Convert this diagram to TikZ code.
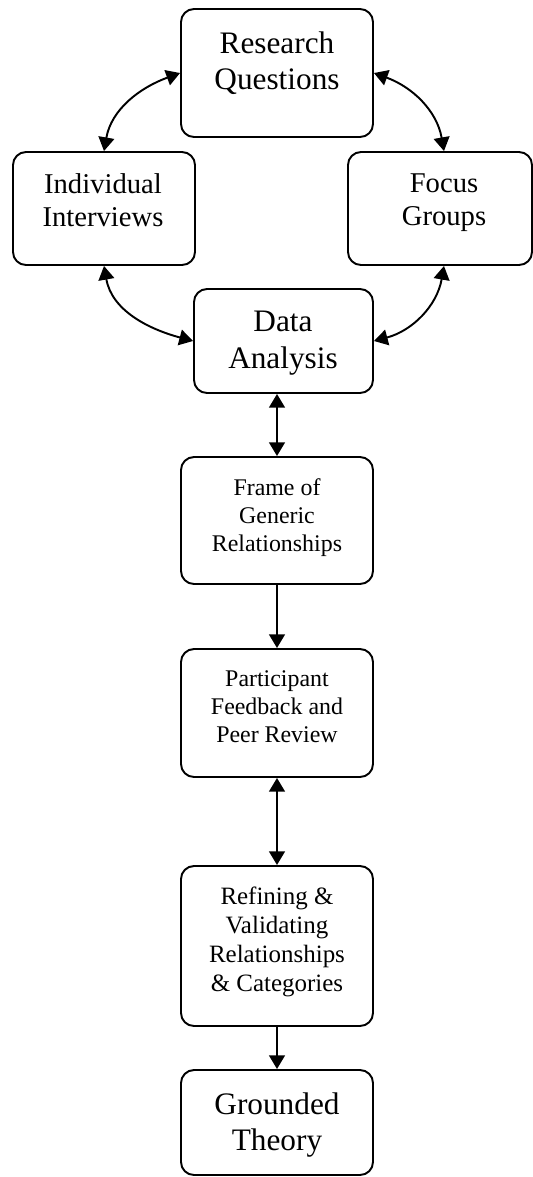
\documentclass[tikz,border=0pt]{standalone}
\usepackage{fontspec}
\setmainfont{Liberation Serif}
\usetikzlibrary{arrows.meta, calc}
\tikzset{
    my-box/.style={
        draw, rounded corners=0.26cm, line width=1.1pt, inner sep=0pt
    },
    my-big/.style={
        anchor=north, align=center, inner sep=0pt,
        font=\fontsize{17.8}{20.7}\selectfont
    },
    my-mid/.style={
        anchor=north, align=center, inner sep=0pt,
        font=\fontsize{16.3}{18.9}\selectfont
    },
    my-small/.style={
        anchor=north, align=center, inner sep=0pt,
        font=\fontsize{13.6}{16.1}\selectfont
    },
    my-arrow/.style={
        line width=1.1pt, >={Triangle[length=7.8pt,width=9pt]}
    },
}
\begin{document}
\begin{tikzpicture}

        \useasboundingbox (0,0) rectangle (10.66,-23.54);

        % BOXES
        \node[my-box, minimum width=3.84cm, minimum height=2.56cm] (RQ) at (5.54,-1.46)  {};
        \node[my-box, minimum width=3.64cm, minimum height=2.26cm] (II) at (2.08,-4.17)  {};
        \node[my-box, minimum width=3.68cm, minimum height=2.26cm] (FG) at (8.80,-4.17)  {};
        \node[my-box, minimum width=3.58cm, minimum height=2.08cm] (DA) at (5.67,-6.82)  {};
        \node[my-box, minimum width=3.84cm, minimum height=2.54cm] (FR) at (5.54,-10.41) {};
        \node[my-box, minimum width=3.84cm, minimum height=2.56cm] (PF) at (5.54,-14.26) {};
        \node[my-box, minimum width=3.84cm, minimum height=3.20cm] (RV) at (5.54,-18.92) {};
        \node[my-box, minimum width=3.84cm, minimum height=2.10cm] (GT) at (5.54,-22.45) {};

        % TEXTS
        \node[my-big]   (RQT) at ($(RQ.north) + (0,-.46)$)    {Research\\Questions};
        \node[my-mid]   (IIT) at ($(II.north) + (-.02,-.44)$) {Individual\\Interviews};
        \node[my-mid]   (FGT) at ($(FG.north) + (.08,-.44)$)  {Focus\\Groups};
        \node[my-big]   (DAT) at ($(DA.north) + (-.01,-.46)$) {Data\\Analysis};
        \node[my-small] (FRT) at ($(FR.north) + (0,-.44)$)    {Frame of\\Generic\\Relationships};
        \node[my-small] (PFT) at ($(PF.north) + (0,-.44)$)    {Participant\\Feedback and\\Peer Review};
        \node[my-small, font=\fontsize{14.2}{16.4}\selectfont]
                        (RVT) at ($(RV.north) + (0,-.44)$)    {Refining \&\\Validating\\Relationships\\\& Categories};
        \node[my-big]   (GTT) at ($(GT.north) + (0,-.46)$)    {Grounded\\Theory};

        % CONNECTOR POINTS
        \coordinate (FGIN)  at ($(FG.north) + (.08,0)$);
        \coordinate (FGOUT) at ($(FG.south) + (.08,0)$);

        % LOOP CONNECTIONS
        \draw[my-arrow, <->] (RQ.west)  to[out=200, in=80]  (II.north);
        \draw[my-arrow, <->] (RQ.east)  to[out=-20, in=100] (FGIN);
        \draw[my-arrow, <->] (II.south) to[out=-80, in=165] (DA.west);
        \draw[my-arrow, <->] (FGOUT)    to[out=260, in=15]  (DA.east);

        % CHAIN CONNECTIONS
        \draw[my-arrow, <->] (FR.north |- DA.south) -- (FR.north);
        \draw[my-arrow, ->]  (FR.south) -- (PF.north);
        \draw[my-arrow, <->] (PF.south) -- (RV.north);
        \draw[my-arrow, ->]  (RV.south) -- (GT.north);

    \end{tikzpicture}
\end{document}
